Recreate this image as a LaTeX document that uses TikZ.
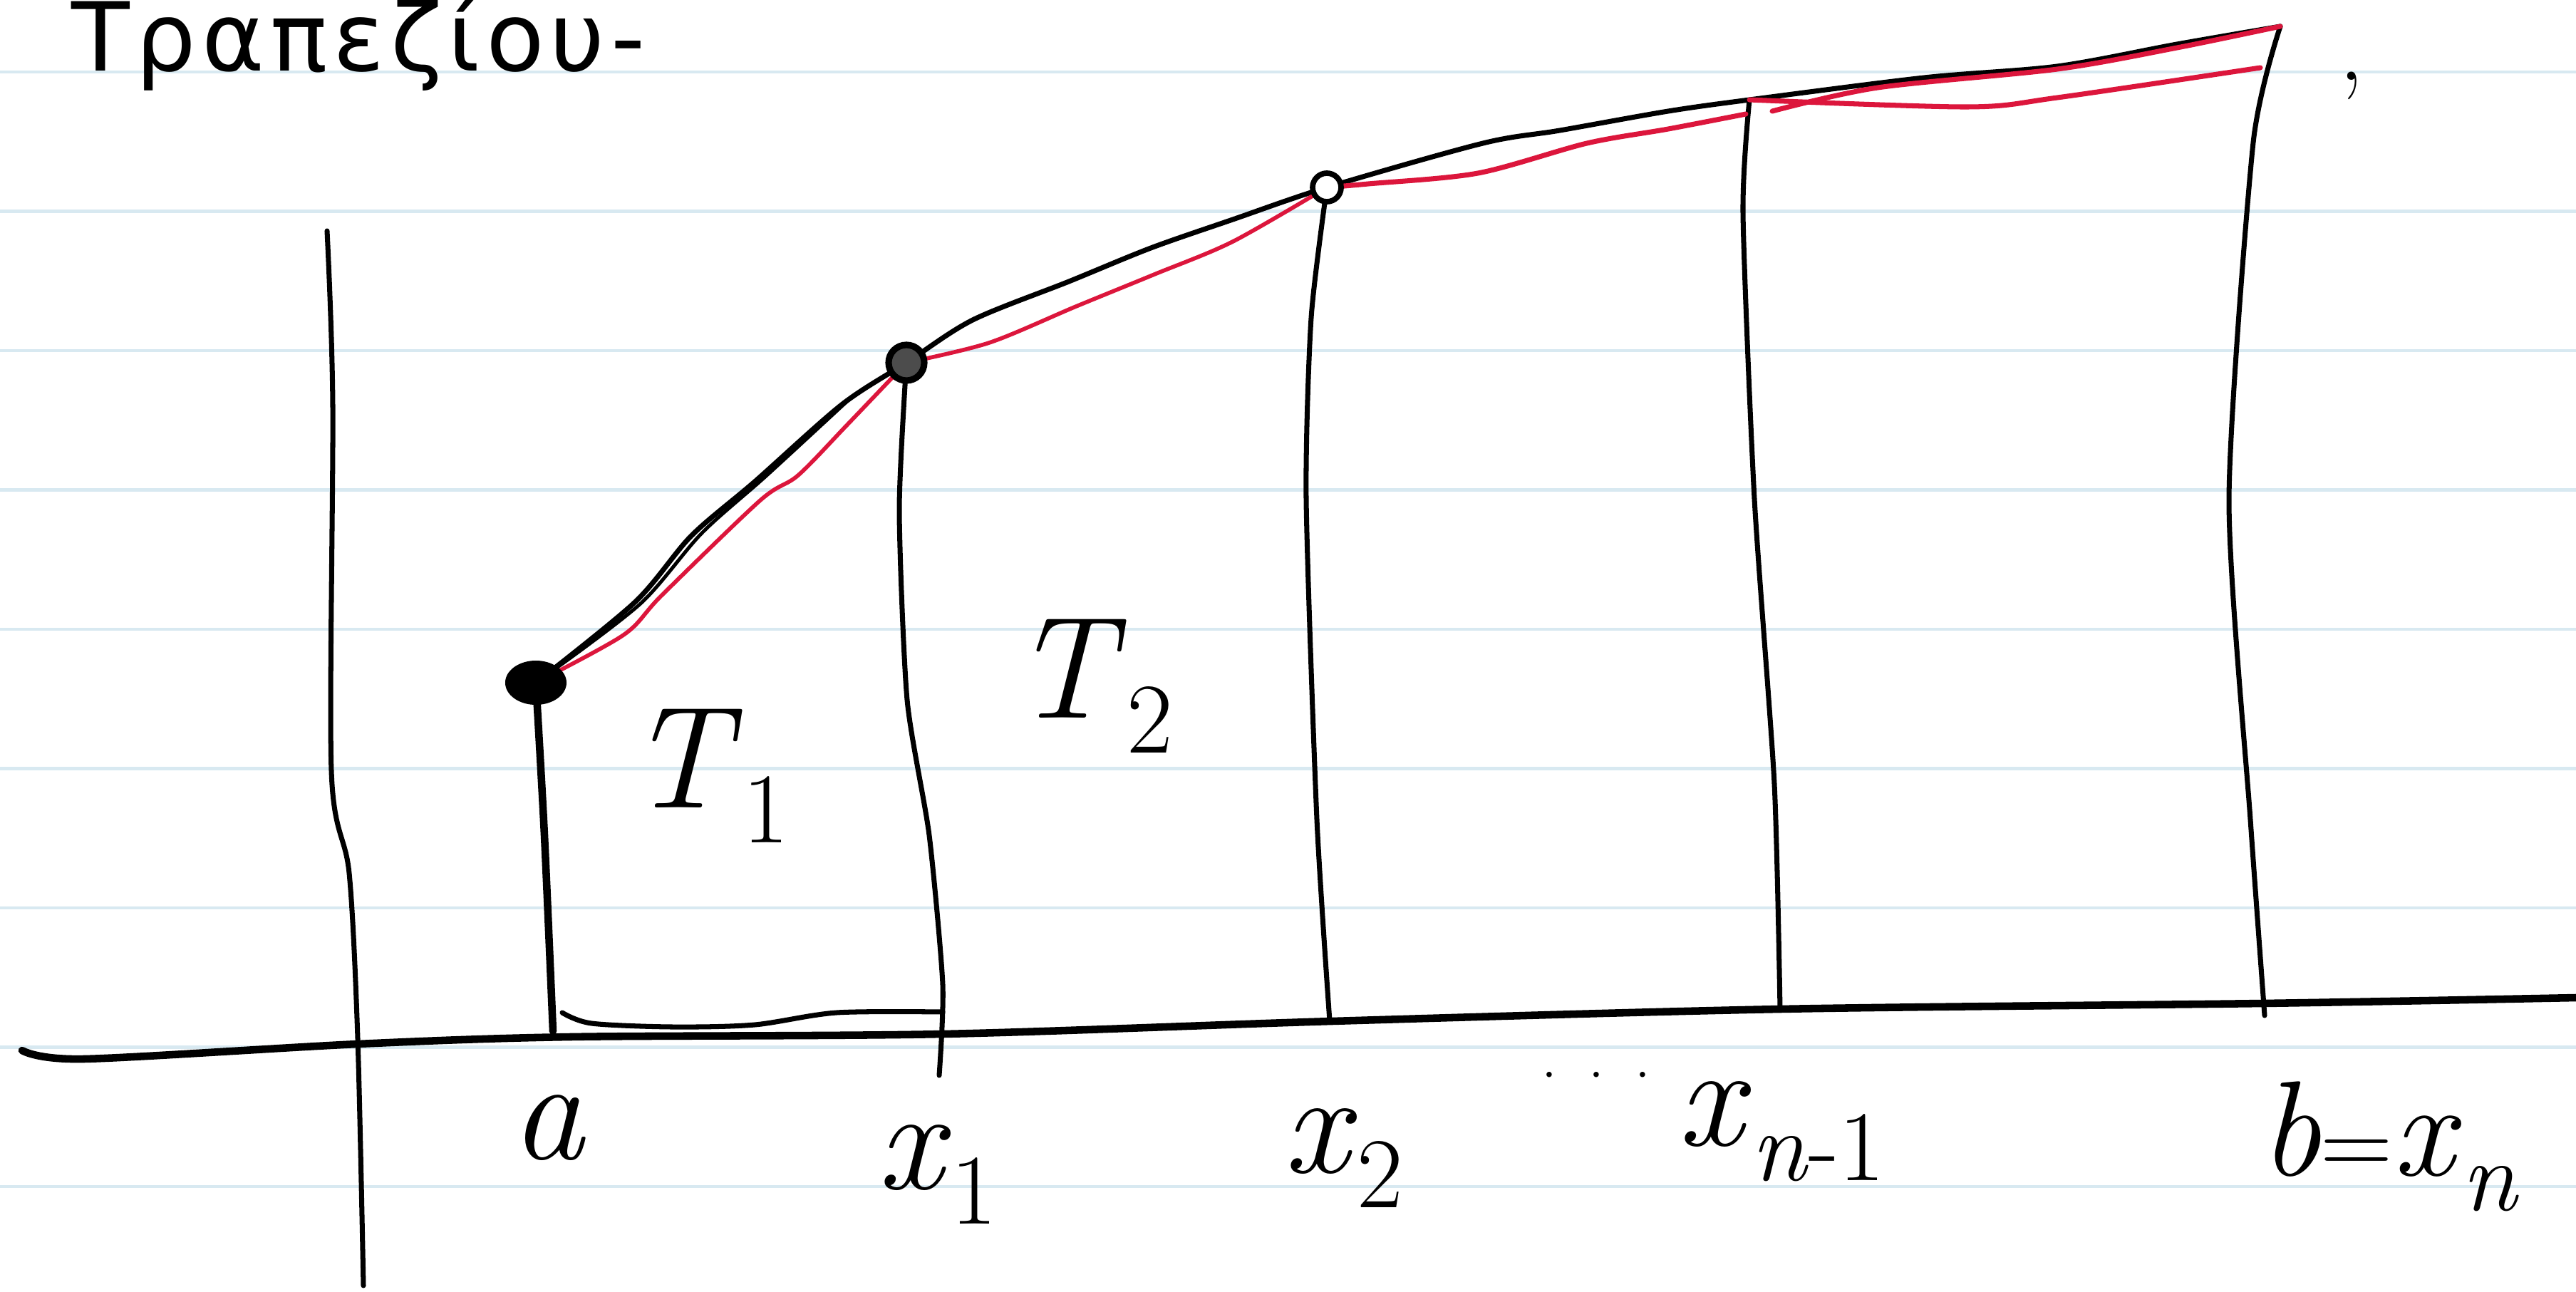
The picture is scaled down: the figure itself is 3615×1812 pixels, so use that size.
\documentclass[tikz,border=0pt]{standalone}
\usepackage{fontspec}
\newfontfamily\greekfont[LetterSpace=6]{DejaVu Sans}
\usepackage{xcolor}
\usepackage{tikz}
\usetikzlibrary{shapes.geometric}
\definecolor{inkred}{RGB}{220,22,60}
\definecolor{ruleblue}{RGB}{216,233,241}
\tikzset{
    ink/.style={line width=2pt, line cap=round, line join=round},
    chord/.style={draw=inkred, line width=1.6pt, line cap=round, line join=round},
    ruled/.style={draw=ruleblue, line width=1.2pt}
}
% letter with a lowered index
\newcommand{\lblsub}[2]{\textit{#1}\raisebox{-14pt}{\fontsize{40}{42}\selectfont #2}}

\begin{document}
\begin{tikzpicture}[
    x=0.01cm, y=-0.01cm,
    lbl/.style={inner sep=0pt, font=\fontsize{58}{60}\selectfont},
    dotbig/.style={ellipse, fill=black, minimum width=0.86cm, minimum height=0.62cm, inner sep=0pt},
    dotring/.style={circle, draw=black, fill=black!70, line width=2.6pt, minimum size=0.5cm, inner sep=0pt},
    dotsmall/.style={circle, draw=black, fill=white, line width=2.2pt, minimum size=0.4cm, inner sep=0pt}
]
    \useasboundingbox (0,0) rectangle (3615,1812);

    % Paper
    \fill[white] (0,0) rectangle (3615,1812);
    \foreach \k in {0,...,8}
        \draw[ruled] (0,101+195.5*\k) -- (3615,101+195.5*\k);

    % Points on the curve
    \coordinate (pa) at (752,958);
    \coordinate (px1) at (1272,509);
    \coordinate (px2) at (1862,263);
    \coordinate (pxn1) at (2455,140);
    \coordinate (pb) at (3200,37);

    % Feet on the x axis
    \coordinate (fa) at (776,1447);
    \coordinate (fx1) at (1318,1509);
    \coordinate (fx2) at (1866,1433);
    \coordinate (fxn1) at (2498,1416);
    \coordinate (fb) at (3178,1425);

    % Axes
    \draw[ink, line width=3pt] plot[smooth] coordinates {(31,1474) (117,1486) (502,1465) (800,1455) (1323,1451) (1869,1433) (2498,1416) (3175,1408) (3615,1400)};
    \draw[ink] plot[smooth] coordinates {(459,324) (467,570) (465,1081) (490,1225) (502,1457) (510,1804)};

    % Verticals
    \draw[ink, line width=3pt] plot[smooth] coordinates {(pa) (764,1172) (fa)};
    \draw[ink] plot[smooth] coordinates {(789,1421) (830,1436) (944,1441) (1059,1438) (1174,1421) (1323,1420)};
    \draw[ink] plot[smooth, tension=0.4] coordinates {(px1) (1262,716) (1273,982) (1304,1172) (1323,1382) (fx1)};
    \draw[ink] plot[smooth, tension=0.4] coordinates {(px2) (1840,446) (1833,700) (1848,1150) (fx2)};
    \draw[ink] plot[smooth, tension=0.4] coordinates {(pxn1) (2446,300) (2462,700) (2490,1100) (fxn1)};
    \draw[ink] plot[smooth, tension=0.4] coordinates {(pb) (3162,200) (3128,700) (3158,1150) (fb)};

    % Curve
    \draw[ink] plot[smooth, tension=0.5] coordinates {(pa) (891,845) (970,752) (1059,676) (1181,568) (px1) (1365,449) (1500,395) (1615,348) (1730,308) (px2) (2081,201) (2189,183) (2341,156) (pxn1) (2700,109) (2887,93) (3055,62) (pb)};
    \draw[ink, line width=1.4pt] plot[smooth] coordinates {(780,938) (900,846) (985,748) (1075,668) (1190,562)};

    % Chords
    \draw[chord] plot[smooth] coordinates {(pa) (875,891) (929,835) (1067,702) (1120,667) (1189,596) (px1)};
    \draw[chord] plot[smooth] coordinates {(px1) (1388,481) (1510,430) (1620,385) (1730,339) (px2)};
    \draw[chord, line width=2pt] plot[smooth] coordinates {(px2) (1920,258) (2074,243) (2227,201) (2341,181) (2450,160)};
    \draw[chord, line width=2pt] plot[smooth] coordinates {(2487,156) (2635,123) (2887,97) (3055,67) (pb)};
    \draw[chord, line width=2pt] plot[smooth] coordinates {(pxn1) (2761,150) (2887,137) (3172,95)};

    % Points
    \node[dotbig] (dota) at (pa) {};
    \node[dotring] (dotx1) at (px1) {};
    \node[dotsmall] (dotx2) at (px2) {};

    % Labels
    \node[anchor=base west, inner sep=0pt, font=\greekfont\fontsize{38}{40}\selectfont] (title) at (100,100) {Τραπεζίου-};
    \node[lbl, anchor=base] (lbla) at (770,1626) {\textit{a}};
    \node[lbl, anchor=base] (lblx1) at (1315,1668) {\lblsub{x}{1}};
    \node[lbl, anchor=base] (lblx2) at (1885,1645) {\lblsub{x}{2}};
    \node[inner sep=0pt, font=\fontsize{26}{28}\selectfont] (lbldots) at (2240,1522) {···};
    \node[lbl, anchor=base] (lblxn1) at (2500,1607) {\lblsub{x}{\textit{n}-1}};
    \node[lbl, anchor=base, font=\fontsize{54}{56}\selectfont] (lblb) at (3353,1649) {\textit{b}{\fontsize{40}{42}\selectfont =}\lblsub{x}{\textit{n}}};
    \node[lbl, anchor=base] (lblt1) at (994,1133) {\lblsub{T}{1}};
    \node[lbl, anchor=base] (lblt2) at (1533,1007) {\lblsub{T}{2}};
    \node[inner sep=0pt, anchor=base, font=\fontsize{40}{42}\selectfont] (comma) at (3300,112) {,};

\end{tikzpicture}
\end{document}
